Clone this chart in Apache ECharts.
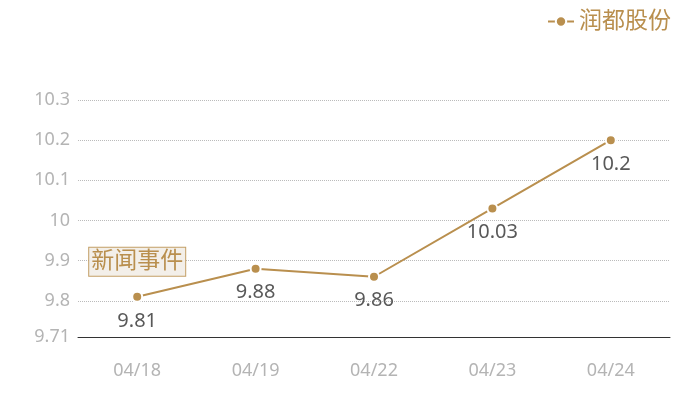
<!DOCTYPE html>
<html>
<head>
<meta charset="utf-8">
<script src="https://cdn.jsdelivr.net/npm/echarts@6/dist/echarts.min.js"></script>
<style>
  html, body { margin: 0; padding: 0; background: #fff; }
  #main { width: 700px; height: 400px; }
</style>
</head>
<body>
<div id="main"></div>
<script>
// 数据
var dates = ["04/18", "04/19", "04/22", "04/23", "04/24"];
var prices = [9.81, 9.88, 9.86, 10.03, 10.2];
var seriesName = "润都股份";
var eventText = "新闻事件";

var gold = "#b98f4e";
var font = "'Noto Sans', 'Noto Sans CJK SC', sans-serif";

var myChart = echarts.init(document.getElementById('main'));

var option = {
    textStyle: { fontFamily: font },
    legend: {
        data: [seriesName],
        right: 24,
        top: 5,
        itemWidth: 26,
        itemHeight: 13,
        itemGap: 6,
        textStyle: { color: gold, fontSize: 23, fontFamily: font }
    },
    grid: { left: 78, right: 30, top: 100, bottom: 63 },
    xAxis: {
        type: 'category',
        data: dates,
        boundaryGap: true,
        axisLine: { lineStyle: { color: '#333' } },
        axisTick: { show: false },
        axisLabel: { color: '#b4b4b4', fontSize: 18, margin: 25 }
    },
    yAxis: {
        type: 'value',
        min: 9.71,
        max: 10.3,
        axisLine: { show: false },
        axisTick: { show: false },
        axisLabel: { color: '#b4b4b4', fontSize: 18, margin: 8 },
        splitLine: { lineStyle: { color: '#bbb', type: 'dotted' } }
    },
    series: [{
        name: seriesName,
        type: 'line',
        data: prices,
        color: gold,
        symbol: 'circle',
        symbolSize: 10,
        itemStyle: { color: gold, borderColor: '#fff', borderWidth: 2 },
        lineStyle: { color: gold, width: 2 },
        label: {
            show: true,
            position: 'bottom',
            distance: 8,
            color: '#595959',
            fontSize: 20
        },
        markPoint: {
            symbol: 'rect',
            symbolSize: 1,
            itemStyle: { color: 'rgba(0,0,0,0)' },
            data: [{
                coord: [0, prices[0]],
                value: eventText,
                label: {
                    show: true,
                    formatter: eventText,
                    offset: [0, -35],
                    color: gold,
                    fontSize: 23,
                    backgroundColor: '#f3efe9',
                    borderColor: '#c39f66',
                    borderWidth: 1,
                    padding: [3, 2, 2, 2]
                }
            }]
        }
    }]
};

myChart.setOption(option);
</script>
</body>
</html>
